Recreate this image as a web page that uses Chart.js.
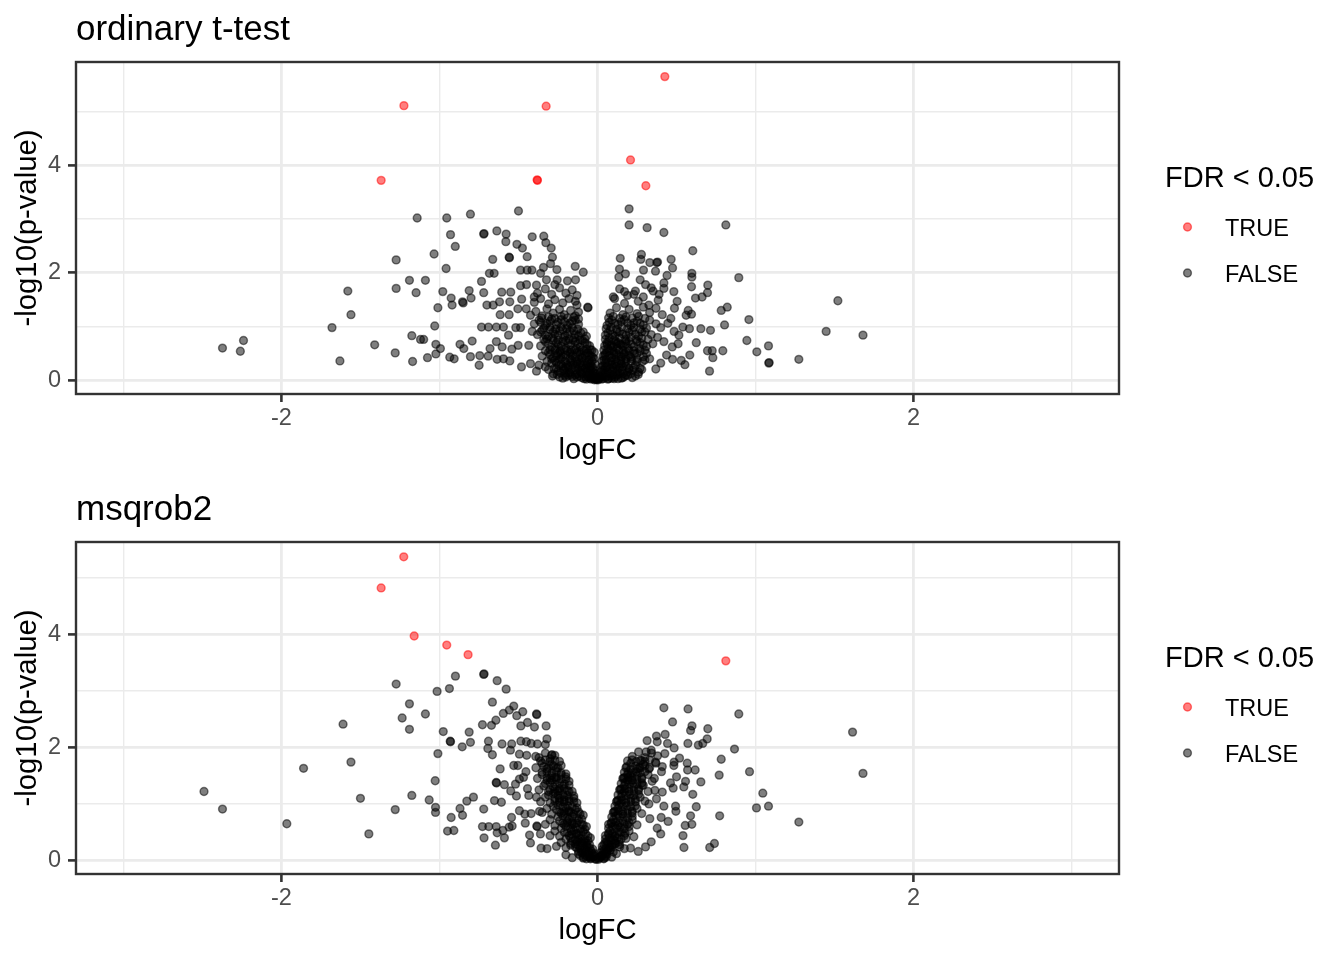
<!DOCTYPE html>
<html>
<head>
<meta charset="utf-8">
<title>Volcano plots</title>
<script src="https://cdn.jsdelivr.net/npm/chart.js@4.4.1/dist/chart.umd.min.js"></script>
<style>
    html, body { margin: 0; padding: 0; background: #ffffff; }
    .panel { position: relative; width: 1344px; height: 480px; }
</style>
</head>
<body>
<div class="panel"><canvas id="ttestChart"></canvas></div>
<div class="panel"><canvas id="msqrobChart"></canvas></div>
<script>
const FONT = '"Liberation Sans", Arial, Helvetica, sans-serif';
Chart.defaults.font.family = FONT;

// Axes
const xGridTicks = [-3, -2, -1, 0, 1, 2, 3];
const xLabelTicks = [-2, 0, 2];
const yGridTicks = [0, 1, 2, 3, 4, 5];
const yLabelTicks = [0, 2, 4];
const panelTitles = ['ordinary t-test', 'msqrob2'];
const legendTitle = 'FDR < 0.05';
const legendLabels = ['TRUE', 'FALSE'];

// ordinary t-test: [logFC, -log10(p-value)]
const ttestTrue = [
    [-1.225, 5.11], [-1.369, 3.72], [-0.325, 5.10], [-0.382, 3.73], [-0.380, 3.72],
    [0.426, 5.65], [0.209, 4.10], [0.306, 3.62]
];
const ttestFalse = [
    [-1.141, 3.02], [-1.274, 2.24], [-1.19, 1.86], [-1.274, 1.71], [-1.148, 1.63],
    [-1.58, 1.66], [-1.56, 1.22], [-1.68, 0.98], [-1.175, 0.83], [-1.12, 0.76],
    [-1.41, 0.66], [-1.28, 0.51], [-1.63, 0.36], [-1.17, 0.35], [-2.373, 0.60],
    [-2.24, 0.74], [-2.26, 0.54],
    [-0.954, 3.02], [-0.804, 3.09], [-0.50, 3.15], [-0.93, 2.71], [-0.90, 2.49],
    [-0.72, 2.72], [-0.718, 2.73], [-0.637, 2.78], [-0.578, 2.72], [-0.58, 2.58],
    [-0.51, 2.53], [-0.475, 2.46], [-0.413, 2.67], [-0.34, 2.68], [-0.327, 2.56],
    [-0.293, 2.46], [-1.034, 2.35], [-0.557, 2.28], [-0.559, 2.29], [-0.663, 2.25],
    [-0.445, 2.30], [-0.285, 2.29], [-0.958, 2.08], [-0.684, 1.99], [-0.654, 1.99],
    [-0.487, 2.05], [-0.445, 2.05], [-0.415, 2.05], [-0.36, 1.99], [-0.342, 2.10],
    [-0.297, 2.17], [-0.257, 2.06], [-0.141, 2.12], [-0.09, 2.01], [-1.089, 1.86],
    [-0.734, 1.84], [-0.979, 1.65], [-0.812, 1.67], [-0.72, 1.63], [-0.606, 1.64],
    [-0.549, 1.64], [-0.487, 1.76], [-0.449, 1.78], [-0.386, 1.77], [-0.323, 1.87],
    [-0.255, 1.87], [-0.19, 1.85], [-0.139, 1.87], [-0.926, 1.53], [-0.80, 1.53],
    [-0.854, 1.46], [-0.85, 1.44], [-0.92, 1.40], [-0.70, 1.40], [-0.66, 1.40],
    [-0.62, 1.46], [-0.555, 1.46], [-0.48, 1.51], [-0.40, 1.55], [-1.01, 1.35],
    [-0.616, 1.22], [-0.559, 1.22], [-0.504, 1.33], [-0.451, 1.33], [-0.424, 1.21],
    [-0.06, 1.35], [-0.062, 1.36], [-1.03, 1.01], [-0.734, 0.99], [-0.69, 0.99],
    [-0.64, 0.99], [-0.595, 0.99], [-0.517, 0.98], [-0.487, 0.98], [-0.563, 0.84],
    [-0.413, 0.91], [-1.10, 0.76], [-1.023, 0.67], [-0.994, 0.59], [-0.87, 0.67],
    [-0.846, 0.59], [-0.793, 0.73], [-0.64, 0.72], [-0.603, 0.62], [-0.542, 0.58],
    [-0.502, 0.65], [-0.435, 0.65], [-0.68, 0.59], [-1.076, 0.42], [-1.023, 0.49],
    [-0.935, 0.43], [-0.907, 0.40], [-0.804, 0.44], [-0.745, 0.46], [-0.692, 0.45],
    [-0.635, 0.39], [-0.595, 0.40], [-0.555, 0.36], [-0.481, 0.25], [-0.749, 0.28],
    [-0.424, 0.31], [-0.386, 0.17], [-0.371, 0.28],
    [0.20, 3.19], [0.20, 2.89], [0.314, 2.84], [0.42, 2.75], [0.812, 2.89],
    [0.603, 2.41], [0.144, 2.27], [0.278, 2.34], [0.274, 2.25], [0.331, 2.19],
    [0.375, 2.19], [0.38, 2.20], [0.466, 2.25], [0.475, 2.09], [0.139, 2.07],
    [0.177, 1.98], [0.135, 1.92], [0.291, 2.05], [0.367, 2.03], [0.44, 1.95],
    [0.597, 1.99], [0.597, 1.92], [0.894, 1.91], [0.27, 1.87], [0.304, 1.78],
    [0.42, 1.81], [0.42, 1.71], [0.698, 1.77], [0.595, 1.74], [0.696, 1.63],
    [0.662, 1.55], [0.62, 1.53], [0.171, 1.65], [0.23, 1.60], [0.352, 1.66],
    [0.483, 1.65], [0.108, 1.52], [0.171, 1.43], [0.258, 1.47], [0.384, 1.49],
    [0.325, 1.40], [0.504, 1.47], [0.487, 1.34], [0.574, 1.30], [0.561, 1.21],
    [0.595, 1.23], [0.783, 1.30], [0.821, 1.36], [0.958, 1.13], [0.804, 1.03],
    [0.654, 0.96], [0.715, 0.93], [0.54, 0.99], [0.582, 0.96], [0.445, 1.06],
    [0.464, 1.15], [0.485, 0.91], [0.515, 0.84], [0.42, 0.72], [0.51, 0.68],
    [0.473, 0.62], [0.625, 0.70], [0.945, 0.74], [1.082, 0.64], [1.008, 0.53],
    [1.084, 0.32], [1.086, 0.33], [0.696, 0.55], [0.726, 0.55], [0.73, 0.42],
    [0.793, 0.55], [0.584, 0.47], [0.53, 0.37], [0.553, 0.29], [0.475, 0.39],
    [0.709, 0.17], [0.437, 0.47], [0.40, 0.32], [0.369, 0.21], [0.258, 0.11],
    [1.274, 0.39], [1.447, 0.91], [1.521, 1.48], [1.68, 0.84]
];
// ordinary t-test: the dense cloud around logFC = 0
const ttestCore = [
    [-0.38, 1.62], [-0.33, 1.70], [-0.29, 1.60], [-0.24, 1.72], [-0.20, 1.62],
    [-0.16, 1.68], [-0.13, 1.58], [-0.27, 1.78],
    [-0.40, 1.45], [-0.36, 1.52], [-0.31, 1.42], [-0.27, 1.50], [-0.22, 1.44],
    [-0.18, 1.52], [-0.13, 1.40], [-0.14, 1.47],
    [-0.39, 1.28], [-0.35, 1.20], [-0.32, 1.33], [-0.28, 1.25], [-0.24, 1.32],
    [-0.21, 1.22], [-0.17, 1.30], [-0.14, 1.20], [-0.12, 1.27],
    [-0.40, 1.05], [-0.37, 1.12], [-0.33, 1.02], [-0.30, 1.10], [-0.26, 1.04],
    [-0.23, 1.13], [-0.19, 1.02], [-0.16, 1.10], [-0.12, 1.04], [-0.12, 1.14],
    [-0.38, 0.85], [-0.35, 0.93], [-0.31, 0.82], [-0.28, 0.90], [-0.25, 0.84],
    [-0.22, 0.94], [-0.19, 0.86], [-0.15, 0.92], [-0.12, 0.83], [-0.09, 0.90],
    [-0.07, 0.82],
    [-0.36, 0.64], [-0.33, 0.72], [-0.29, 0.62], [-0.26, 0.70], [-0.23, 0.64],
    [-0.20, 0.74], [-0.17, 0.66], [-0.14, 0.72], [-0.11, 0.62], [-0.08, 0.70],
    [-0.05, 0.64],
    [-0.35, 0.45], [-0.31, 0.52], [-0.28, 0.42], [-0.25, 0.50], [-0.22, 0.44],
    [-0.19, 0.54], [-0.16, 0.46], [-0.13, 0.52], [-0.10, 0.42], [-0.07, 0.50],
    [-0.04, 0.44], [-0.02, 0.52],
    [-0.33, 0.25], [-0.29, 0.32], [-0.26, 0.22], [-0.23, 0.30], [-0.20, 0.24],
    [-0.17, 0.33], [-0.14, 0.26], [-0.11, 0.32], [-0.08, 0.22], [-0.06, 0.30],
    [-0.03, 0.24], [-0.015, 0.30],
    [-0.28, 0.12], [-0.24, 0.06], [-0.20, 0.13], [-0.16, 0.07], [-0.13, 0.12],
    [-0.10, 0.05], [-0.07, 0.11], [-0.05, 0.04], [-0.03, 0.09], [-0.01, 0.02],
    [-0.02, 0.14],
    [-0.22, 0.04], [-0.185, 0.09], [-0.15, 0.03], [-0.115, 0.08], [-0.085, 0.03],
    [-0.06, 0.07], [-0.04, 0.02], [-0.025, 0.05], [-0.012, 0.04],
    [-0.25, 0.17], [-0.21, 0.19], [-0.18, 0.15], [-0.145, 0.19], [-0.11, 0.16],
    [-0.09, 0.20], [-0.065, 0.16], [-0.045, 0.19], [-0.03, 0.15], [-0.01, 0.12],
    [-0.27, 0.37], [-0.24, 0.39], [-0.205, 0.35], [-0.175, 0.40], [-0.14, 0.36],
    [-0.115, 0.39], [-0.085, 0.35], [-0.055, 0.38], [-0.035, 0.36], [-0.02, 0.40],
    [-0.30, 0.57], [-0.265, 0.59], [-0.235, 0.55], [-0.20, 0.60], [-0.165, 0.56],
    [-0.135, 0.60], [-0.10, 0.56], [-0.07, 0.58], [-0.045, 0.57],
    [-0.32, 0.77], [-0.285, 0.79], [-0.25, 0.75], [-0.215, 0.80], [-0.18, 0.76],
    [-0.145, 0.79], [-0.11, 0.75], [-0.08, 0.77],
    [-0.34, 0.97], [-0.30, 0.99], [-0.265, 0.95], [-0.23, 0.99], [-0.195, 0.96],
    [-0.16, 0.98], [-0.125, 0.95],
    [-0.355, 1.16], [-0.31, 1.18], [-0.27, 1.15], [-0.23, 1.19], [-0.19, 1.16],
    [-0.15, 1.17],
    [-0.03, 0.03], [-0.02, 0.01], [-0.05, 0.10], [-0.07, 0.02], [-0.10, 0.12],
    [-0.13, 0.06], [-0.17, 0.11], [-0.20, 0.06], [-0.04, 0.26], [-0.07, 0.28],
    [-0.10, 0.24], [-0.13, 0.30], [-0.16, 0.22], [-0.19, 0.28], [-0.22, 0.26],
    [-0.05, 0.47], [-0.08, 0.46], [-0.11, 0.48], [-0.14, 0.44], [-0.17, 0.49],
    [-0.20, 0.47], [-0.23, 0.48], [-0.26, 0.46],
    [-0.285, 0.08], [-0.255, 0.11], [-0.235, 0.14], [-0.205, 0.09], [-0.175, 0.14],
    [-0.14, 0.10], [-0.105, 0.14], [-0.075, 0.06], [-0.055, 0.13], [-0.035, 0.11],
    [-0.02, 0.07],
    [-0.31, 0.20], [-0.275, 0.22], [-0.245, 0.28], [-0.215, 0.21], [-0.185, 0.25],
    [-0.155, 0.29], [-0.125, 0.21], [-0.095, 0.27], [-0.07, 0.19], [-0.05, 0.24],
    [-0.025, 0.20],
    [-0.32, 0.35], [-0.29, 0.40], [-0.26, 0.33], [-0.23, 0.41], [-0.195, 0.31],
    [-0.165, 0.38], [-0.13, 0.34], [-0.095, 0.41], [-0.065, 0.33], [-0.045, 0.31],
    [-0.03, 0.43],
    [-0.33, 0.55], [-0.30, 0.48], [-0.27, 0.56], [-0.24, 0.53], [-0.21, 0.57],
    [-0.175, 0.52], [-0.145, 0.57], [-0.115, 0.53], [-0.085, 0.55], [-0.06, 0.51],
    [-0.035, 0.56],
    [-0.34, 0.76], [-0.31, 0.68], [-0.28, 0.74], [-0.25, 0.67], [-0.22, 0.72],
    [-0.185, 0.69], [-0.155, 0.75], [-0.125, 0.68], [-0.095, 0.74], [-0.065, 0.67],
    [-0.36, 0.90], [-0.33, 0.84], [-0.30, 0.94], [-0.27, 0.86], [-0.24, 0.92],
    [-0.205, 0.83], [-0.175, 0.91], [-0.14, 0.85], [-0.105, 0.88],
    [-0.36, 1.08], [-0.32, 1.06], [-0.29, 1.14], [-0.25, 1.08], [-0.21, 1.09],
    [-0.175, 1.06], [-0.14, 1.12],
    [0.10, 1.55], [0.14, 1.70], [0.19, 1.58], [0.24, 1.66], [0.29, 1.55],
    [0.34, 1.72], [0.39, 1.60],
    [0.08, 1.25], [0.12, 1.35], [0.16, 1.22], [0.20, 1.32], [0.25, 1.24],
    [0.29, 1.36], [0.33, 1.26], [0.37, 1.34], [0.41, 1.22],
    [0.06, 1.02], [0.09, 1.12], [0.13, 1.04], [0.17, 1.13], [0.21, 1.02],
    [0.25, 1.10], [0.29, 1.03], [0.33, 1.12], [0.37, 1.05], [0.40, 0.98],
    [0.05, 0.84], [0.08, 0.93], [0.11, 0.82], [0.14, 0.90], [0.18, 0.84],
    [0.22, 0.93], [0.26, 0.82], [0.30, 0.90], [0.34, 0.85], [0.38, 0.80],
    [0.045, 0.64], [0.07, 0.72], [0.10, 0.62], [0.13, 0.70], [0.16, 0.64],
    [0.20, 0.73], [0.23, 0.62], [0.27, 0.70], [0.31, 0.63], [0.35, 0.68],
    [0.035, 0.45], [0.06, 0.52], [0.09, 0.42], [0.12, 0.50], [0.15, 0.44],
    [0.18, 0.53], [0.21, 0.43], [0.25, 0.50], [0.29, 0.44], [0.33, 0.40],
    [0.025, 0.25], [0.05, 0.32], [0.08, 0.22], [0.11, 0.30], [0.14, 0.24],
    [0.17, 0.32], [0.20, 0.22], [0.24, 0.28], [0.28, 0.20],
    [0.01, 0.03], [0.03, 0.10], [0.05, 0.05], [0.08, 0.12], [0.11, 0.06],
    [0.14, 0.13], [0.17, 0.07], [0.21, 0.12], [0.005, 0.01], [-0.005, 0.01],
    [0.015, 0.05], [0.035, 0.03], [0.06, 0.08], [0.09, 0.04], [0.12, 0.09],
    [0.15, 0.04], [0.18, 0.10], [0.22, 0.05],
    [0.02, 0.16], [0.04, 0.19], [0.065, 0.15], [0.095, 0.19], [0.125, 0.16],
    [0.155, 0.20], [0.19, 0.16], [0.225, 0.19], [0.26, 0.15],
    [0.03, 0.36], [0.055, 0.39], [0.085, 0.35], [0.115, 0.39], [0.145, 0.36],
    [0.18, 0.40], [0.215, 0.36], [0.25, 0.39], [0.285, 0.35],
    [0.04, 0.56], [0.065, 0.59], [0.095, 0.55], [0.125, 0.60], [0.16, 0.56],
    [0.195, 0.59], [0.23, 0.55], [0.265, 0.59], [0.30, 0.56],
    [0.05, 0.76], [0.075, 0.79], [0.105, 0.75], [0.14, 0.79], [0.175, 0.76],
    [0.21, 0.80], [0.245, 0.76], [0.28, 0.78], [0.32, 0.76],
    [0.055, 0.96], [0.085, 0.99], [0.12, 0.95], [0.155, 0.99], [0.19, 0.96],
    [0.23, 0.98], [0.27, 0.95], [0.31, 0.97],
    [0.07, 1.16], [0.10, 1.19], [0.14, 1.15], [0.18, 1.18], [0.22, 1.16],
    [0.26, 1.19], [0.30, 1.15],
    [0.01, 0.08], [0.025, 0.02], [0.045, 0.12], [0.07, 0.03], [0.10, 0.10],
    [0.13, 0.03], [0.16, 0.12], [0.035, 0.27], [0.06, 0.25], [0.09, 0.29],
    [0.12, 0.26], [0.15, 0.30], [0.18, 0.26], [0.045, 0.47], [0.075, 0.46],
    [0.105, 0.48], [0.135, 0.45], [0.165, 0.48], [0.20, 0.46], [0.06, 0.67],
    [0.09, 0.66], [0.12, 0.68], [0.15, 0.66], [0.18, 0.68],
    [0.02, 0.06], [0.04, 0.09], [0.065, 0.02], [0.085, 0.08], [0.105, 0.03],
    [0.13, 0.11], [0.16, 0.05], [0.19, 0.09], [0.24, 0.08],
    [0.03, 0.20], [0.05, 0.23], [0.075, 0.18], [0.10, 0.24], [0.13, 0.20],
    [0.16, 0.25], [0.20, 0.20], [0.23, 0.24], [0.27, 0.22],
    [0.04, 0.38], [0.065, 0.33], [0.09, 0.37], [0.12, 0.34], [0.15, 0.40],
    [0.18, 0.35], [0.215, 0.40], [0.25, 0.34], [0.30, 0.38],
    [0.05, 0.50], [0.075, 0.55], [0.105, 0.52], [0.135, 0.56], [0.17, 0.50],
    [0.20, 0.55], [0.235, 0.50], [0.27, 0.54], [0.31, 0.50],
    [0.06, 0.70], [0.085, 0.64], [0.115, 0.72], [0.145, 0.67], [0.18, 0.73],
    [0.215, 0.67], [0.25, 0.72], [0.29, 0.66],
    [0.065, 0.88], [0.095, 0.85], [0.125, 0.90], [0.16, 0.86], [0.20, 0.89],
    [0.24, 0.86], [0.28, 0.90],
    [0.075, 1.08], [0.11, 1.06], [0.15, 1.09], [0.19, 1.07], [0.23, 1.07],
    [0.27, 1.06]
];

// msqrob2: [logFC, -log10(p-value)]
const msqrobTrue = [
    [-1.226, 5.37], [-1.369, 4.82], [-1.16, 3.97], [-0.954, 3.81], [-0.819, 3.64],
    [0.812, 3.53]
];
const msqrobFalse = [
    [-1.274, 3.12], [-1.19, 2.77], [-1.236, 2.52], [-1.19, 2.32], [-1.61, 2.41],
    [-1.56, 1.74], [-1.86, 1.63], [-1.175, 1.15], [-1.50, 1.10], [-1.28, 0.90],
    [-1.447, 0.47], [-1.966, 0.65], [-2.49, 1.22], [-2.373, 0.91],
    [-0.72, 3.29], [-0.718, 3.30], [-0.899, 3.26], [-0.937, 3.04], [-1.015, 2.99],
    [-0.635, 3.18], [-0.578, 3.03], [-0.665, 2.80], [-1.089, 2.59], [-0.596, 2.60],
    [-0.558, 2.66], [-0.53, 2.73], [-0.511, 2.56], [-0.473, 2.63], [-0.384, 2.58],
    [-0.386, 2.59], [-0.728, 2.40], [-0.671, 2.39], [-0.643, 2.48], [-0.485, 2.38],
    [-0.443, 2.44], [-0.399, 2.36], [-0.325, 2.38], [-0.976, 2.28], [-0.812, 2.27],
    [-0.804, 2.09], [-0.93, 2.10], [-0.932, 2.11], [-0.856, 2.01], [-0.69, 2.11],
    [-0.694, 1.98], [-0.665, 1.87], [-0.604, 2.06], [-0.543, 2.06], [-0.551, 1.95],
    [-0.485, 2.11], [-0.45, 2.10], [-0.42, 2.07], [-0.38, 2.06], [-0.33, 2.05],
    [-0.32, 2.15], [-1.01, 1.89], [-0.494, 1.88], [-0.448, 1.86], [-0.391, 1.84],
    [-0.29, 1.86], [-0.288, 1.87], [-0.616, 1.62], [-0.53, 1.68], [-0.504, 1.68],
    [-0.453, 1.57], [-0.468, 1.47], [-0.494, 1.44], [-1.027, 1.41], [-0.639, 1.37],
    [-0.641, 1.38], [-0.589, 1.34], [-0.519, 1.35], [-0.549, 1.23], [-0.513, 1.14],
    [-0.443, 1.27], [-0.435, 1.15], [-0.386, 1.12], [-1.065, 1.07], [-0.785, 1.12],
    [-0.827, 1.05], [-0.652, 1.06], [-0.608, 1.03], [-1.025, 0.94], [-1.025, 0.85],
    [-0.87, 0.92], [-0.72, 0.91], [-0.926, 0.76], [-0.854, 0.80], [-0.544, 0.76],
    [-0.494, 0.88], [-0.46, 0.82], [-0.42, 0.83], [-0.367, 0.87], [-0.457, 0.66],
    [-0.949, 0.52], [-0.909, 0.53], [-0.728, 0.60], [-0.688, 0.60], [-0.641, 0.60],
    [-0.599, 0.53], [-0.559, 0.59], [-0.54, 0.61], [-0.635, 0.49], [-0.589, 0.40],
    [-0.718, 0.40], [-0.646, 0.27], [-0.382, 0.60], [-0.384, 0.61], [-0.43, 0.45],
    [-0.424, 0.31], [-0.361, 0.47], [-0.357, 0.22], [-0.319, 0.21],
    [0.42, 2.70], [0.573, 2.68], [0.894, 2.59], [0.475, 2.45], [0.598, 2.38],
    [0.589, 2.30], [0.698, 2.33], [0.694, 2.15], [0.373, 2.20], [0.378, 2.10],
    [0.428, 2.23], [0.314, 2.12], [0.572, 2.07], [0.638, 2.04], [0.666, 2.07],
    [0.443, 2.07], [0.485, 1.99], [0.867, 1.97], [0.308, 1.92], [0.342, 1.90],
    [0.426, 1.89], [0.783, 1.79], [0.278, 1.77], [0.367, 1.74], [0.485, 1.74],
    [0.519, 1.81], [0.568, 1.72], [0.264, 1.64], [0.325, 1.62], [0.405, 1.57],
    [0.483, 1.68], [0.618, 1.60], [0.57, 1.60], [0.962, 1.57], [0.209, 1.52],
    [0.198, 1.42], [0.77, 1.51], [0.50, 1.48], [0.462, 1.37], [0.557, 1.40],
    [0.546, 1.30], [0.654, 1.39], [0.346, 1.40], [0.283, 1.33], [0.363, 1.24],
    [0.41, 1.21], [0.479, 1.28], [0.603, 1.17], [1.046, 1.19], [0.373, 1.09],
    [0.325, 1.00], [0.42, 0.96], [0.494, 0.96], [0.496, 0.87], [0.625, 0.95],
    [1.006, 0.93], [1.082, 0.96], [0.331, 0.74], [0.403, 0.76], [0.447, 0.69],
    [0.589, 0.79], [0.597, 0.64], [0.555, 0.62], [0.773, 0.79], [0.378, 0.57],
    [0.40, 0.47], [0.541, 0.44], [0.34, 0.33], [0.304, 0.24], [0.258, 0.16],
    [0.547, 0.23], [0.71, 0.23], [0.74, 0.30], [0.209, 0.22],
    [1.614, 2.27], [1.68, 1.54], [1.274, 0.68]
];
// msqrob2: the two dense arms of the V around logFC = 0
const msqrobCore = [
    [-0.37, 1.82], [-0.33, 1.90], [-0.30, 1.80], [-0.27, 1.86],
    [-0.39, 1.64], [-0.35, 1.72], [-0.32, 1.62], [-0.29, 1.70], [-0.26, 1.63],
    [-0.23, 1.68],
    [-0.38, 1.45], [-0.35, 1.52], [-0.32, 1.42], [-0.29, 1.50], [-0.26, 1.43],
    [-0.23, 1.52], [-0.20, 1.44], [-0.18, 1.40],
    [-0.37, 1.25], [-0.34, 1.32], [-0.31, 1.22], [-0.28, 1.30], [-0.25, 1.23],
    [-0.22, 1.32], [-0.19, 1.24], [-0.16, 1.22],
    [-0.36, 1.04], [-0.33, 1.12], [-0.30, 1.02], [-0.27, 1.10], [-0.24, 1.03],
    [-0.21, 1.12], [-0.18, 1.05], [-0.15, 1.10], [-0.13, 1.02],
    [-0.35, 0.85], [-0.32, 0.92], [-0.29, 0.82], [-0.26, 0.90], [-0.23, 0.84],
    [-0.20, 0.93], [-0.17, 0.85], [-0.14, 0.90], [-0.11, 0.82], [-0.09, 0.80],
    [-0.33, 0.64], [-0.30, 0.72], [-0.27, 0.62], [-0.24, 0.70], [-0.21, 0.64],
    [-0.18, 0.73], [-0.15, 0.65], [-0.12, 0.71], [-0.09, 0.63], [-0.07, 0.60],
    [-0.30, 0.44], [-0.27, 0.52], [-0.24, 0.43], [-0.21, 0.50], [-0.18, 0.44],
    [-0.15, 0.53], [-0.12, 0.45], [-0.09, 0.51], [-0.06, 0.43], [-0.045, 0.40],
    [-0.26, 0.25], [-0.23, 0.32], [-0.20, 0.23], [-0.17, 0.30], [-0.14, 0.24],
    [-0.11, 0.32], [-0.08, 0.22], [-0.05, 0.28], [-0.03, 0.20],
    [-0.20, 0.10], [-0.16, 0.05], [-0.12, 0.12], [-0.09, 0.06], [-0.06, 0.11],
    [-0.04, 0.04], [-0.02, 0.08], [-0.01, 0.02],
    [-0.09, 0.04], [-0.065, 0.07], [-0.045, 0.03], [-0.03, 0.06], [-0.015, 0.03],
    [-0.12, 0.16], [-0.10, 0.14], [-0.075, 0.17], [-0.055, 0.15], [-0.035, 0.13],
    [-0.02, 0.12],
    [-0.17, 0.27], [-0.14, 0.29], [-0.12, 0.27], [-0.095, 0.30], [-0.07, 0.27],
    [-0.05, 0.22],
    [-0.20, 0.38], [-0.17, 0.40], [-0.14, 0.37], [-0.11, 0.39], [-0.08, 0.37],
    [-0.06, 0.35],
    [-0.23, 0.57], [-0.20, 0.60], [-0.17, 0.57], [-0.14, 0.59], [-0.11, 0.56],
    [-0.08, 0.55],
    [-0.25, 0.77], [-0.22, 0.79], [-0.19, 0.76], [-0.16, 0.78], [-0.13, 0.75],
    [-0.10, 0.73],
    [-0.28, 0.96], [-0.25, 0.98], [-0.22, 0.95], [-0.19, 0.97], [-0.16, 0.95],
    [-0.13, 0.93],
    [-0.31, 1.16], [-0.28, 1.18], [-0.25, 1.15], [-0.22, 1.17], [-0.19, 1.15],
    [-0.15, 1.14],
    [-0.33, 1.36], [-0.30, 1.38], [-0.27, 1.35], [-0.24, 1.37], [-0.21, 1.35],
    [-0.18, 1.33],
    [-0.35, 1.56], [-0.32, 1.57], [-0.29, 1.55], [-0.26, 1.57], [-0.23, 1.55],
    [-0.20, 1.53],
    [-0.36, 1.76], [-0.33, 1.78], [-0.30, 1.75], [-0.27, 1.77], [-0.24, 1.75],
    [-0.08, 0.10], [-0.05, 0.09], [-0.11, 0.22], [-0.08, 0.20], [-0.13, 0.33],
    [-0.10, 0.34], [-0.16, 0.46], [-0.13, 0.48], [-0.19, 0.66], [-0.16, 0.67],
    [-0.21, 0.87], [-0.18, 0.88], [-0.24, 1.06], [-0.21, 1.07], [-0.27, 1.26],
    [-0.24, 1.27], [-0.30, 1.46], [-0.27, 1.47],
    [-0.07, 0.03], [-0.05, 0.06], [-0.03, 0.10], [-0.11, 0.09], [-0.09, 0.13],
    [-0.13, 0.22], [-0.10, 0.19], [-0.065, 0.24], [-0.04, 0.17],
    [-0.16, 0.34], [-0.12, 0.36], [-0.085, 0.33], [-0.07, 0.31],
    [-0.19, 0.49], [-0.165, 0.52], [-0.135, 0.47], [-0.105, 0.50], [-0.075, 0.47],
    [-0.22, 0.66], [-0.19, 0.69], [-0.16, 0.63], [-0.13, 0.66], [-0.10, 0.64],
    [-0.24, 0.86], [-0.21, 0.83], [-0.18, 0.86], [-0.15, 0.82], [-0.12, 0.86],
    [-0.27, 1.05], [-0.24, 1.10], [-0.21, 1.03], [-0.18, 1.09], [-0.15, 1.04],
    [-0.30, 1.25], [-0.27, 1.20], [-0.24, 1.23], [-0.21, 1.27], [-0.18, 1.22],
    [-0.32, 1.46], [-0.29, 1.42], [-0.26, 1.47], [-0.23, 1.44], [-0.20, 1.48],
    [-0.34, 1.66], [-0.31, 1.64], [-0.28, 1.67], [-0.25, 1.64],
    [0.22, 1.84], [0.26, 1.92], [0.30, 1.82], [0.34, 1.95], [0.38, 1.85],
    [0.18, 1.64], [0.21, 1.72], [0.25, 1.62], [0.29, 1.70], [0.33, 1.64],
    [0.37, 1.72], [0.41, 1.66],
    [0.16, 1.45], [0.19, 1.52], [0.22, 1.42], [0.25, 1.50], [0.28, 1.44],
    [0.32, 1.52], [0.36, 1.45],
    [0.14, 1.25], [0.17, 1.32], [0.20, 1.22], [0.23, 1.30], [0.26, 1.24],
    [0.29, 1.33], [0.32, 1.22],
    [0.12, 1.04], [0.15, 1.12], [0.18, 1.02], [0.21, 1.10], [0.24, 1.04],
    [0.27, 1.12], [0.30, 1.05],
    [0.10, 0.85], [0.13, 0.92], [0.16, 0.82], [0.19, 0.90], [0.22, 0.84],
    [0.25, 0.92], [0.28, 0.83],
    [0.07, 0.64], [0.10, 0.72], [0.13, 0.62], [0.16, 0.70], [0.19, 0.64],
    [0.22, 0.72], [0.25, 0.63],
    [0.05, 0.44], [0.08, 0.52], [0.11, 0.43], [0.14, 0.50], [0.17, 0.44],
    [0.20, 0.52], [0.23, 0.42],
    [0.03, 0.25], [0.05, 0.32], [0.08, 0.22], [0.11, 0.30], [0.14, 0.24],
    [0.17, 0.21],
    [0.005, 0.02], [0.02, 0.08], [0.04, 0.04], [0.06, 0.11], [0.09, 0.06],
    [0.12, 0.12],
    [0.01, 0.04], [0.025, 0.07], [0.04, 0.03], [0.055, 0.06],
    [0.02, 0.14], [0.04, 0.17], [0.06, 0.15], [0.08, 0.18], [0.10, 0.15],
    [0.04, 0.28], [0.065, 0.30], [0.09, 0.27], [0.115, 0.30], [0.14, 0.28],
    [0.05, 0.38], [0.075, 0.40], [0.10, 0.37], [0.125, 0.40], [0.15, 0.38],
    [0.18, 0.39],
    [0.07, 0.57], [0.095, 0.60], [0.12, 0.57], [0.145, 0.59], [0.17, 0.56],
    [0.20, 0.60],
    [0.09, 0.77], [0.115, 0.79], [0.14, 0.76], [0.165, 0.78], [0.19, 0.75],
    [0.22, 0.78],
    [0.11, 0.96], [0.135, 0.98], [0.16, 0.95], [0.185, 0.97], [0.21, 0.95],
    [0.24, 0.97],
    [0.13, 1.16], [0.155, 1.18], [0.18, 1.15], [0.205, 1.17], [0.23, 1.15],
    [0.26, 1.17],
    [0.15, 1.36], [0.175, 1.38], [0.20, 1.35], [0.225, 1.37], [0.25, 1.35],
    [0.28, 1.37],
    [0.17, 1.56], [0.195, 1.57], [0.22, 1.55], [0.245, 1.57], [0.27, 1.55],
    [0.30, 1.57],
    [0.19, 1.76], [0.22, 1.78], [0.245, 1.75], [0.27, 1.77], [0.30, 1.75],
    [0.33, 1.78],
    [0.03, 0.10], [0.05, 0.12], [0.055, 0.22], [0.075, 0.24], [0.07, 0.46],
    [0.095, 0.48], [0.09, 0.67], [0.115, 0.68], [0.11, 0.87], [0.135, 0.88],
    [0.13, 1.06], [0.155, 1.07], [0.15, 1.26], [0.175, 1.27], [0.17, 1.46],
    [0.195, 1.47],
    [0.015, 0.06], [0.035, 0.10], [0.05, 0.08],
    [0.03, 0.19], [0.05, 0.15], [0.07, 0.21], [0.09, 0.24],
    [0.06, 0.33], [0.085, 0.35], [0.11, 0.34], [0.135, 0.33],
    [0.07, 0.48], [0.095, 0.44], [0.125, 0.47], [0.15, 0.50], [0.175, 0.48],
    [0.085, 0.66], [0.11, 0.62], [0.14, 0.66], [0.17, 0.64], [0.20, 0.67],
    [0.105, 0.86], [0.13, 0.82], [0.16, 0.87], [0.19, 0.83], [0.22, 0.87],
    [0.125, 1.06], [0.15, 1.02], [0.18, 1.08], [0.21, 1.04], [0.24, 1.08],
    [0.145, 1.26], [0.17, 1.22], [0.20, 1.27], [0.23, 1.23], [0.26, 1.27],
    [0.165, 1.46], [0.19, 1.42], [0.22, 1.47], [0.25, 1.43], [0.28, 1.47],
    [0.185, 1.66], [0.21, 1.62], [0.24, 1.67], [0.27, 1.63], [0.30, 1.67]
];

const colTrue = 'rgba(255, 0, 0, 0.5)';
const colFalse = 'rgba(0, 0, 0, 0.5)';
const pointR = 3.9;
const pointBorder = 1.5;

function toXY(pts) {
    return pts.map(p => ({ x: p[0], y: p[1] }));
}

// Panel border, panel title and the FDR legend
const panelDecor = {
    id: 'panelDecor',
    afterDraw(chart, args, opts) {
        const { ctx, chartArea: a } = chart;
        ctx.save();
        ctx.strokeStyle = '#333333';
        ctx.lineWidth = 2.4;
        ctx.strokeRect(a.left, a.top, a.right - a.left, a.bottom - a.top);

        ctx.fillStyle = '#000000';
        ctx.textAlign = 'left';
        ctx.textBaseline = 'alphabetic';
        ctx.font = '35px ' + FONT;
        ctx.fillText(opts.title, a.left, 40);

        ctx.font = '29px ' + FONT;
        ctx.fillText(legendTitle, 1165, 187);

        ctx.font = '23.5px ' + FONT;
        [colTrue, colFalse].forEach((c, i) => {
            const y = 227 + i * 46;
            ctx.beginPath();
            ctx.arc(1187.5, y, pointR, 0, Math.PI * 2);
            ctx.fillStyle = c;
            ctx.fill();
            ctx.strokeStyle = c;
            ctx.lineWidth = pointBorder;
            ctx.stroke();
            ctx.fillStyle = '#000000';
            ctx.fillText(legendLabels[i], 1225, y + 9);
        });
        ctx.restore();
    }
};

function makeChart(id, title, sigPts, nsPts, yMin, yMax) {
    return new Chart(document.getElementById(id), {
        type: 'scatter',
        data: {
            datasets: [
                {
                    label: 'TRUE',
                    data: toXY(sigPts),
                    backgroundColor: colTrue,
                    borderColor: colTrue,
                    borderWidth: pointBorder,
                    pointRadius: pointR
                },
                {
                    label: 'FALSE',
                    data: toXY(nsPts),
                    backgroundColor: colFalse,
                    borderColor: colFalse,
                    borderWidth: pointBorder,
                    pointRadius: pointR
                }
            ]
        },
        options: {
            responsive: true,
            maintainAspectRatio: false,
            animation: false,
            events: [],
            layout: {
                padding: { left: 0, right: 225, top: 62, bottom: 0 }
            },
            scales: {
                x: {
                    type: 'linear',
                    min: -3.3,
                    max: 3.3,
                    afterBuildTicks: s => { s.ticks = xGridTicks.map(v => ({ value: v })); },
                    afterFit: s => { s.height = 86; },
                    border: { display: false },
                    grid: {
                        color: '#ebebeb',
                        lineWidth: c => (c.tick && xLabelTicks.includes(c.tick.value)) ? 2.8 : 1.4,
                        tickColor: c => (c.tick && xLabelTicks.includes(c.tick.value)) ? '#333333' : 'rgba(0,0,0,0)',
                        tickWidth: 2.6,
                        tickLength: 8
                    },
                    ticks: {
                        autoSkip: false,
                        maxRotation: 0,
                        padding: 2.5,
                        color: '#4d4d4d',
                        font: { size: 23.5 },
                        callback: v => xLabelTicks.includes(v) ? String(v) : ''
                    },
                    title: {
                        display: true,
                        text: 'logFC',
                        color: '#000000',
                        font: { size: 29.3 },
                        padding: { top: 0, bottom: 11.5 }
                    }
                },
                y: {
                    type: 'linear',
                    min: yMin,
                    max: yMax,
                    afterBuildTicks: s => { s.ticks = yGridTicks.map(v => ({ value: v })); },
                    afterFit: s => { s.width = 76; },
                    border: { display: false },
                    grid: {
                        color: '#ebebeb',
                        lineWidth: c => (c.tick && yLabelTicks.includes(c.tick.value)) ? 2.8 : 1.4,
                        tickColor: c => (c.tick && yLabelTicks.includes(c.tick.value)) ? '#333333' : 'rgba(0,0,0,0)',
                        tickWidth: 2.6,
                        tickLength: 8
                    },
                    ticks: {
                        autoSkip: false,
                        padding: 7,
                        color: '#4d4d4d',
                        font: { size: 23.5 },
                        callback: v => yLabelTicks.includes(v) ? String(v) : ''
                    },
                    title: {
                        display: true,
                        text: '-log10(p-value)',
                        color: '#000000',
                        font: { size: 29.3 },
                        padding: { top: 10, bottom: 0 }
                    }
                }
            },
            plugins: {
                legend: { display: false },
                tooltip: { enabled: false },
                panelDecor: { title: title }
            }
        },
        plugins: [panelDecor]
    });
}

makeChart('ttestChart', panelTitles[0], ttestTrue, ttestFalse.concat(ttestCore), -0.255, 5.922);
makeChart('msqrobChart', panelTitles[1], msqrobTrue, msqrobFalse.concat(msqrobCore), -0.239, 5.632);
</script>
</body>
</html>
